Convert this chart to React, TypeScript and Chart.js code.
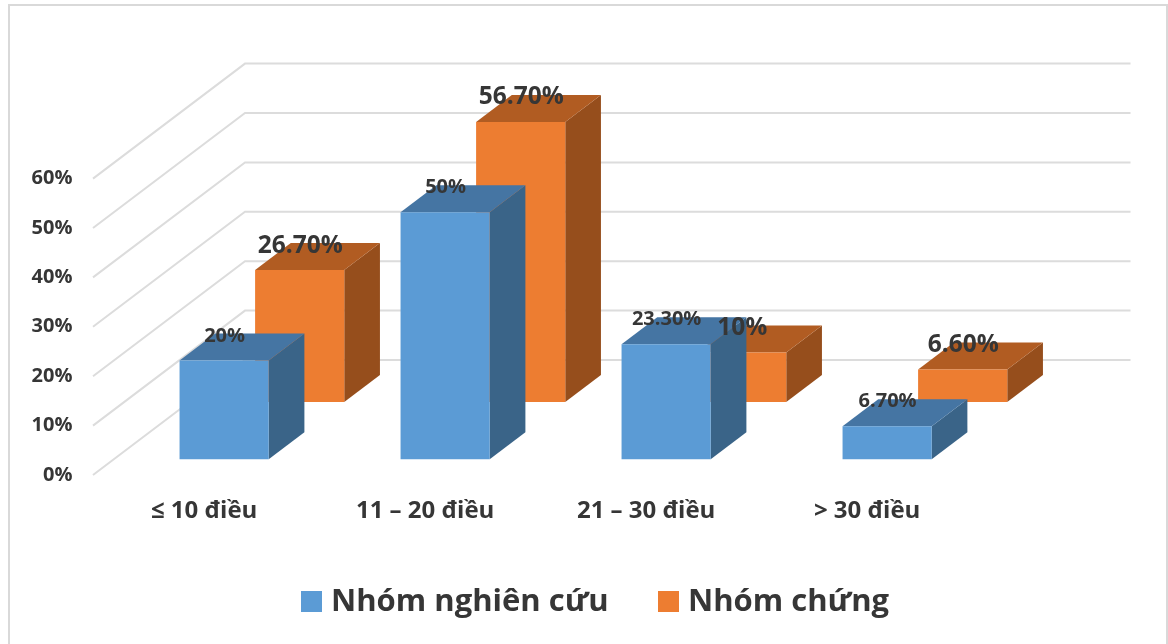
import React, { useEffect, useRef } from "react";
import { Chart, registerables } from "chart.js";

Chart.register(...registerables);

const categories = ["≤ 10 điều", "11 – 20 điều", "21 – 30 điều", "> 30 điều"];
const studyGroup = [20, 50, 23.3, 6.7];
const controlGroup = [26.7, 56.7, 10, 6.6];
const seriesNames = ["Nhóm nghiên cứu", "Nhóm chứng"];

const FONT = "'Open Sans', 'Noto Sans', sans-serif";
const WEIGHT = "bold";
const TEXT = "#363636";
const GRID = "#dcdcdc";
const FRONT = ["#5b9bd5", "#ed7d31"];
const TOP = ["#4575a3", "#b15c22"];
const SIDE = ["#3a6488", "#964e1c"];

// Oblique projection of the box depth, in pixels
const DEPTH_X = 35.7;
const DEPTH_Y = 27;
// Wall projection from the axis edge to the back plane
const WALL_X = 152;
const WALL_Y = 115;
const WALL_LEFT = 93;
const WALL_RIGHT = 1130.5;

const valueLabel = (v: number) =>
  Number.isInteger(v) ? `${v}%` : `${v.toFixed(2)}%`;

const poly = (ctx: CanvasRenderingContext2D, pts: number[][], fill: string) => {
  ctx.beginPath();
  pts.forEach(([x, y], i) => (i ? ctx.lineTo(x, y) : ctx.moveTo(x, y)));
  ctx.closePath();
  ctx.fillStyle = fill;
  ctx.fill();
};

// Frame and the receding gridlines of the side and back walls
const wallsPlugin = {
  id: "walls",
  beforeDraw(chart: any) {
    const { ctx, scales } = chart;
    ctx.save();
    ctx.strokeStyle = "#d9d9d9";
    ctx.lineWidth = 2;
    ctx.beginPath();
    ctx.moveTo(9, 644);
    ctx.lineTo(9, 5);
    ctx.lineTo(1167, 5);
    ctx.lineTo(1167, 644);
    ctx.stroke();
    ctx.strokeStyle = GRID;
    ctx.lineWidth = 2;
    scales.y.ticks.forEach((t: any) => {
      const y = scales.y.getPixelForValue(t.value);
      ctx.beginPath();
      ctx.moveTo(WALL_LEFT, y);
      ctx.lineTo(WALL_LEFT + WALL_X, y - WALL_Y);
      ctx.lineTo(WALL_RIGHT, y - WALL_Y);
      ctx.stroke();
    });
    ctx.restore();
  },
};

// Top and side faces are painted just before each series' front faces
const boxFacesPlugin = {
  id: "boxFaces",
  beforeDatasetDraw(chart: any, args: any) {
    const { ctx } = chart;
    const i = args.index;
    ctx.save();
    args.meta.data.forEach((bar: any) => {
      const l = bar.x - bar.width / 2;
      const r = bar.x + bar.width / 2;
      const t = bar.y;
      const b = bar.base;
      poly(ctx, [[r, t], [r + DEPTH_X, t - DEPTH_Y], [r + DEPTH_X, b - DEPTH_Y], [r, b]], SIDE[i]);
      poly(ctx, [[l, t], [l + DEPTH_X, t - DEPTH_Y], [r + DEPTH_X, t - DEPTH_Y], [r, t]], TOP[i]);
    });
    ctx.restore();
  },
  afterDatasetsDraw(chart: any) {
    const { ctx } = chart;
    const sizes = [20, 24.5];
    ctx.save();
    ctx.fillStyle = TEXT;
    ctx.textAlign = "center";
    ctx.textBaseline = "middle";
    [1, 0].forEach((i) => {
      ctx.font = `${WEIGHT} ${sizes[i]}px ${FONT}`;
      chart.getDatasetMeta(i).data.forEach((bar: any, k: number) => {
        ctx.fillText(valueLabel(chart.data.datasets[i].data[k]), bar.x + 0.5, bar.y - DEPTH_Y + 2.5);
      });
    });
    ctx.restore();
  },
};

// Legend row with a tighter swatch-to-text gap than the built-in one
const legendRowPlugin = {
  id: "legendRow",
  afterDraw(chart: any) {
    const { ctx } = chart;
    const swatchX = [301, 658];
    const SWATCH = 21;
    const MIDDLE = 601.5;
    ctx.save();
    ctx.font = `${WEIGHT} 31px ${FONT}`;
    ctx.textBaseline = "middle";
    chart.data.datasets.forEach((ds: any, i: number) => {
      ctx.fillStyle = ds.backgroundColor;
      ctx.fillRect(swatchX[i], MIDDLE - SWATCH / 2, SWATCH, SWATCH);
      ctx.fillStyle = TEXT;
      ctx.fillText(ds.label, swatchX[i] + SWATCH + 9, MIDDLE + 1);
    });
    ctx.restore();
  },
};

export default function App() {
  const ref = useRef<HTMLCanvasElement>(null);

  useEffect(() => {
    const chart = new Chart(ref.current as HTMLCanvasElement, {
      type: "bar",
      data: {
        labels: categories,
        datasets: [
          {
            label: seriesNames[0],
            data: studyGroup,
            backgroundColor: FRONT[0],
            yAxisID: "yFront",
          },
          {
            label: seriesNames[1],
            data: controlGroup,
            backgroundColor: FRONT[1],
            yAxisID: "yBack",
          },
        ],
      },
      options: {
        responsive: false,
        animation: false,
        categoryPercentage: 0.6837,
        barPercentage: 1.18,
        layout: {
          autoPadding: false,
          padding: { left: 0, right: 132.6, top: 68.6, bottom: 0 },
        },
        plugins: { legend: { display: false }, tooltip: { enabled: false } },
        scales: {
          x: {
            grid: { display: false, drawTicks: false },
            border: { display: false },
            afterFit: (s: any) => {
              s.height = 169;
            },
            ticks: {
              autoSkip: false,
              maxRotation: 0,
              padding: 22,
              labelOffset: -57.75,
              color: TEXT,
              font: { family: FONT, weight: WEIGHT, size: 24 },
            },
          },
          y: {
            min: 0,
            max: 77.73,
            grid: { display: false, drawTicks: false },
            border: { display: false },
            afterBuildTicks: (s: any) => {
              s.ticks = s.ticks.filter((t: any) => t.value <= 60);
            },
            afterFit: (s: any) => {
              s.width = 151.4;
            },
            ticks: {
              stepSize: 10,
              padding: 79,
              color: TEXT,
              callback: (v: any) => `${v}%`,
              font: { family: FONT, weight: WEIGHT, size: 20 },
            },
          },
          // Front and back rows of boxes stand on floors at different heights
          yFront: { display: false, min: -3.18, max: 74.55 },
          yBack: { display: false, min: -14.78, max: 62.95 },
        },
      },
      plugins: [wallsPlugin, boxFacesPlugin, legendRowPlugin],
    } as any);
    return () => chart.destroy();
  }, []);

  return (
    <div style={{ position: "fixed", left: 0, top: 0, background: "#fff" }}>
      <canvas ref={ref} width={1168} height={644} style={{ display: "block" }} />
    </div>
  );
}
